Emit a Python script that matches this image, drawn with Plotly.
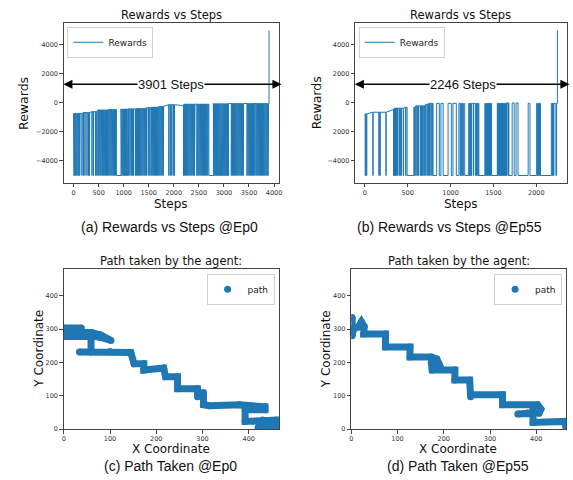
import plotly.graph_objects as go

W, H = 573, 480
BLUE = "#1f77b4"
FLOOR = -5000   # penalty reward
GOAL = 5000     # reward on reaching the goal

# ---------------- Episode 0: rewards per step ----------------
# running reward level (piecewise, by starting step)
ep0_level_from = [0, 180, 360, 480, 700, 880, 1250, 1450, 1550, 1700, 1850, 2050, 2200, 2750]
ep0_level = [-720, -660, -600, -480, -450, -410, -380, -330, -290, -240, -120, -190, -80, -40]
# steps where the reward switches between the running level and the penalty floor
ep0_switch = [
    2, 10, 22, 30, 45, 52, 66, 75, 88, 96, 108, 118, 124, 130,
    168, 172, 198, 203, 228, 232, 268, 272, 298, 303, 318, 322,
    368, 372, 398, 402, 438, 442, 463, 467,
    487, 495, 505, 515, 528, 535, 548, 560, 572, 580, 592, 600, 612, 625, 636, 645,
    658, 668, 680, 690, 702, 712, 725, 735, 748, 756, 770, 780, 792, 800, 815, 822,
    838, 845, 855, 947,
    962, 970, 985, 992, 1005, 1015, 1028, 1036, 1050, 1058, 1072, 1080, 1098, 1102,
    1125, 1130, 1150, 1155, 1175, 1180, 1195, 1200,
    1233, 1240, 1252, 1262, 1275, 1283, 1296, 1305, 1318, 1326, 1340, 1350, 1362, 1370,
    1385, 1393, 1408, 1415, 1430, 1438, 1452, 1462,
    1490, 1494, 1520, 1524,
    1547, 1555, 1568, 1577, 1590, 1598, 1612, 1620, 1634, 1642, 1656, 1665, 1678, 1686,
    1700, 1708, 1722, 1730, 1745, 1752, 1768, 1775, 1790, 1798,
    1900, 1904, 1930, 1934, 1958, 1962, 1990, 1994, 2010, 2014,
    2193, 2200, 2212, 2220, 2235, 2242, 2256, 2265, 2278, 2286, 2300, 2308, 2322, 2330,
    2345, 2352, 2366, 2375, 2390, 2398, 2412, 2424,
    2460, 2468, 2480, 2490, 2503, 2510, 2525, 2533, 2546, 2555, 2568, 2576, 2590, 2598,
    2612, 2620, 2634, 2642, 2656, 2664, 2678, 2686, 2700, 2790,
    2800, 2808, 2822, 2830, 2845, 2852, 2866, 2875, 2888, 2896, 2910, 2918, 2932, 2940,
    2955, 2962, 2976, 2985, 2998, 3006, 3020, 3028, 3042, 3050, 3065, 3072, 3085, 3093,
    3147, 3155, 3168, 3176, 3190, 3198, 3212, 3220, 3235, 3242, 3256, 3265, 3278, 3286,
    3300, 3308, 3322, 3330, 3345, 3352, 3366, 3375, 3385, 3393,
    3460, 3468, 3482, 3490, 3505, 3512, 3526, 3535, 3548, 3556, 3570, 3578, 3588, 3593,
    3615, 3619, 3640, 3644,
    3660, 3668, 3682, 3690, 3705, 3712, 3726, 3735, 3748, 3756, 3770, 3778, 3792, 3800,
    3815, 3822, 3838, 3845, 3860, 3868, 3880, 3890,
]
ep0_goal_step = 3900
ep0_total_steps = 3901

# ---------------- Episode 55: rewards per step ----------------
ep55_level_from = [0, 60, 250, 300, 343, 457, 590, 705, 740, 1650, 1800]
ep55_level = [-750, -640, -560, -450, -360, -300, -200, -100, -30, 0, -30]
ep55_switch = [
    4, 10, 18, 24, 94, 97, 164, 167, 177, 180, 246, 249,
    335, 338, 346, 349, 358, 361, 369, 372, 380, 383,
    400, 403, 411, 414, 426, 429, 449, 452,
    476, 479, 493, 572,
    580, 583, 595, 598, 610, 613, 625, 629,
    648, 651, 662, 665, 676, 679, 690, 693, 703, 706,
    724, 727, 738, 741, 752, 755,
    770, 773, 784, 787, 796, 838,
    869, 888, 914, 971, 1009, 1028, 1067, 1097,
    1112, 1118, 1125, 1131, 1138, 1150, 1165, 1212,
    1218, 1224, 1230, 1236, 1240, 1246, 1266, 1270,
    1292, 1298, 1305, 1311, 1318, 1324, 1330, 1400,
    1406, 1412, 1418, 1424, 1430, 1436, 1442, 1448, 1454, 1460, 1466, 1472,
    1478, 1545, 1550, 1554, 1560, 1564,
    1570, 1575, 1580, 1585, 1590, 1595, 1600, 1605, 1610, 1615, 1620, 1625,
    1630, 1635, 1640, 1645, 1652, 1658, 1671, 1675,
    1680, 1718, 1742, 1764, 1787, 1905, 1926, 2004,
    2010, 2016, 2024, 2030, 2036, 2042, 2048, 2175,
    2185, 2190, 2200, 2205, 2228, 2236,
]
ep55_goal_step = 2246
ep55_total_steps = 2246

# ---------------- Agent paths (x, y waypoints) ----------------
ep0_path_x = [0, 38, 0, 40, 60, 80, 102, 80, 60, 40, 0, 59, 59, 34, 100, 145, 152, 173, 173,
              216, 216, 220, 246, 246, 289, 289, 302, 302, 315, 380, 435, 435, 392, 392,
              430, 460, 462, 420, 425, 462, 465]
ep0_path_y = [303, 303, 290, 292, 290, 282, 266, 275, 280, 278, 278, 278, 231, 231, 233, 230,
              196, 196, 177, 180, 183, 157, 157, 121, 121, 97, 110, 73, 70, 73, 67, 58, 58,
              23, 27, 27, 12, 5, 15, 18, 4]
ep55_path_x = [2, 2, 5, 5, 15, 22, 28, 27, 27, 74, 74, 127, 127, 173, 185, 190, 178, 173, 175,
               224, 224, 256, 258, 260, 327, 327, 403, 410, 406, 381, 360, 393, 393, 393,
               463, 464]
ep55_path_y = [335, 280, 298, 303, 306, 322, 308, 303, 285, 285, 246, 246, 216, 216, 210, 195,
               190, 200, 177, 177, 147, 147, 97, 103, 103, 73, 73, 60, 48, 48, 45, 48, 67, 20,
               23, 6]

# ---------------- Tick labels ----------------
reward_ticks = [-4000, -2000, 0, 2000, 4000]
reward_ticktext_ep0 = ["\u22124000", "\u22122000", "0", "2000", "4000"]
reward_ticktext_ep55 = ["\u22124000", "2000", "0", "2000", "4000"]
ep0_step_ticks = [0, 500, 1000, 1500, 2000, 2500, 3000, 3500, 4000]
ep55_step_ticks = [0, 500, 1000, 1500, 2000]
coord_ticks = [0, 100, 200, 300, 400]


def level_at(step, starts, levels):
    value = levels[0]
    for s, v in zip(starts, levels):
        if step >= s:
            value = v
    return value


def reward_polyline(switch, starts, levels, goal_step):
    xs = [0]
    ys = [level_at(0, starts, levels)]
    low = False
    for s in switch:
        base = level_at(s, starts, levels)
        xs += [s, s]
        ys += [FLOOR, base] if low else [base, FLOOR]
        low = not low
    base = level_at(goal_step, starts, levels)
    xs += [goal_step, goal_step]
    ys += [base, GOAL]
    return xs, ys


def fx(p):
    return p / W


def fy(p):
    return 1 - p / H


DEJAVU = "DejaVu Sans"
ARIAL = "Liberation Sans, Arial, sans-serif"

fig = go.Figure()

ra_x, ra_y = reward_polyline(ep0_switch, ep0_level_from, ep0_level, ep0_goal_step)
rb_x, rb_y = reward_polyline(ep55_switch, ep55_level_from, ep55_level, ep55_goal_step)

fig.add_trace(go.Scatter(x=ra_x, y=ra_y, mode="lines", name="Rewards",
                         line=dict(color=BLUE, width=1), xaxis="x", yaxis="y",
                         legend="legend"))
fig.add_trace(go.Scatter(x=rb_x, y=rb_y, mode="lines", name="Rewards",
                         line=dict(color=BLUE, width=1), xaxis="x2", yaxis="y2",
                         legend="legend2"))

for px_, py_, xa, ya, lg in [(ep0_path_x, ep0_path_y, "x3", "y3", "legend3"),
                             (ep55_path_x, ep55_path_y, "x4", "y4", "legend4")]:
    fig.add_trace(go.Scatter(x=px_, y=py_, mode="lines", showlegend=False,
                             line=dict(color=BLUE, width=7), xaxis=xa, yaxis=ya))
    fig.add_trace(go.Scatter(x=px_, y=py_, mode="markers", name="path",
                             marker=dict(color=BLUE, size=7), xaxis=xa, yaxis=ya,
                             legend=lg))

axis_common = dict(showline=True, mirror=True, linecolor="#444", linewidth=1,
                   ticks="outside", ticklen=3.5, tickwidth=0.8, tickcolor="#444",
                   tickfont=dict(family=DEJAVU, size=6.5, color="#333"),
                   showgrid=False, zeroline=False, fixedrange=True)

boxes = {
    "a": (62.3, 279.3, 23.3, 184.3),
    "b": (356.3, 570.0, 23.3, 184.3),
    "c": (62.3, 279.3, 271.7, 432.7),
    "d": (352.3, 569.3, 271.7, 432.7),
}


def dom(key):
    l, r, t, b = boxes[key]
    return [fx(l), fx(r)], [fy(b), fy(t)]


xa_d, ya_d = dom("a")
xb_d, yb_d = dom("b")
xc_d, yc_d = dom("c")
xd_d, yd_d = dom("d")

fig.update_layout(
    width=W, height=H, margin=dict(l=0, r=0, t=0, b=0),
    paper_bgcolor="white", plot_bgcolor="white",
    xaxis=dict(domain=xa_d, anchor="y", range=[-195, 4096], tickvals=ep0_step_ticks, **axis_common),
    yaxis=dict(domain=ya_d, anchor="x", range=[-5500, 5500], tickvals=reward_ticks,
               ticktext=reward_ticktext_ep0, **axis_common),
    xaxis2=dict(domain=xb_d, anchor="y2", range=[-112, 2358], tickvals=ep55_step_ticks, **axis_common),
    yaxis2=dict(domain=yb_d, anchor="x2", range=[-5500, 5500], tickvals=reward_ticks,
                ticktext=reward_ticktext_ep55, **axis_common),
    xaxis3=dict(domain=xc_d, anchor="y3", range=[0, 465], tickvals=coord_ticks, **axis_common),
    yaxis3=dict(domain=yc_d, anchor="x3", range=[0, 479], tickvals=coord_ticks, **axis_common),
    xaxis4=dict(domain=xd_d, anchor="y4", range=[0, 465], tickvals=coord_ticks, **axis_common),
    yaxis4=dict(domain=yd_d, anchor="x4", range=[0, 479], tickvals=coord_ticks, **axis_common),
)

legend_common = dict(bgcolor="white", bordercolor="#d0d0d0", borderwidth=1,
                     font=dict(family=DEJAVU, size=9, color="#222"),
                     tracegroupgap=0, itemwidth=30)
fig.update_layout(
    legend=dict(x=fx(66), y=fy(27), xanchor="left", yanchor="top", **legend_common),
    legend2=dict(x=fx(360), y=fy(27), xanchor="left", yanchor="top", **legend_common),
    legend3=dict(x=fx(275), y=fy(276), xanchor="right", yanchor="top", **legend_common),
    legend4=dict(x=fx(565), y=fy(276), xanchor="right", yanchor="top", **legend_common),
)

ann = []


def text(x, y, s, size, family=DEJAVU, angle=0):
    ann.append(dict(x=fx(x), y=fy(y), xref="paper", yref="paper", text=s, showarrow=False,
                    xanchor="center", yanchor="middle", textangle=angle, borderpad=0,
                    font=dict(family=family, size=size, color="#111")))


# titles
text(170.8, 15, "Rewards vs Steps", 11.5)
text(463, 15, "Rewards vs Steps", 11.5)
text(170.8, 263, "Path taken by the agent:", 11.5)
text(460.8, 263, "Path taken by the agent:", 11.5)
# axis labels
text(21, 104, "Rewards", 12.5, angle=-90)
text(317, 104, "Rewards", 12.5, angle=-90)
text(170, 206, "Steps", 12)
text(463, 206, "Steps", 12)
text(37, 352, "Y Coordinate", 12, angle=-90)
text(327, 352, "Y Coordinate", 12, angle=-90)
text(170, 453, "X Coordinate", 12)
text(460, 453, "X Coordinate", 12)
# captions
text(169, 229, "(a) Rewards vs Steps @Ep0", 14, ARIAL)
text(451, 229, "(b) Rewards vs Steps @Ep55", 14, ARIAL)
text(170, 470, "(c) Path Taken @Ep0", 14, ARIAL)
text(460, 470, "(d) Path Taken @Ep55", 14, ARIAL)

# episode length arrows
for left, right, cx, label in [(62.3, 282, 170, f"{ep0_total_steps} Steps"),
                               (356.3, 572.5, 465, f"{ep55_total_steps} Steps")]:
    ann.append(dict(x=fx(right), y=fy(85), xref="paper", yref="paper",
                    ax=-(right - left), ay=0, axref="pixel", ayref="pixel",
                    text="", showarrow=True, arrowside="end+start", arrowhead=2,
                    arrowsize=1.3, arrowwidth=1.4, arrowcolor="black", standoff=0,
                    startstandoff=0))
    ann.append(dict(x=fx(cx), y=fy(85), xref="paper", yref="paper", text=label,
                    showarrow=False, xanchor="center", yanchor="middle", bgcolor="white",
                    borderpad=0, font=dict(family=ARIAL, size=13, color="#111")))

fig.update_layout(annotations=ann)

fig.write_html("out.html")
